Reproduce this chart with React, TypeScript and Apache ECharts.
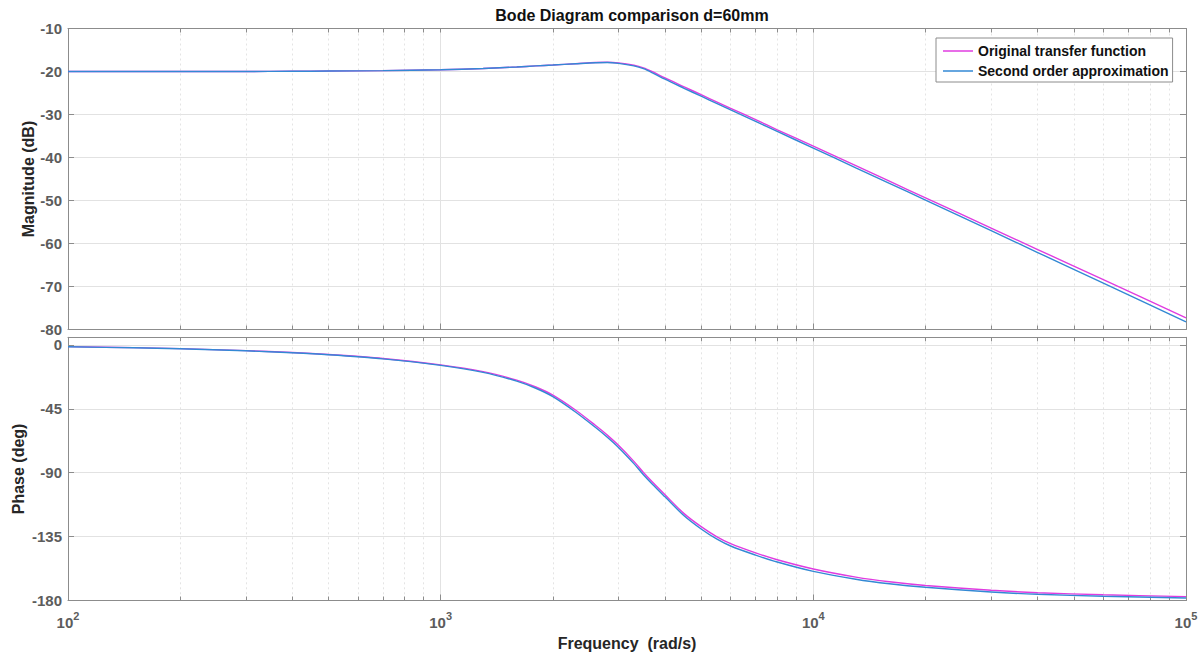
import React, { useEffect, useRef } from "react";
import * as echarts from "echarts";

const TITLE = "Bode Diagram comparison d=60mm";
const SERIES_NAMES = ["Original transfer function", "Second order approximation"];

const freq = [100, 150, 200, 300, 400, 500, 700, 1000, 1300, 1600, 1800, 2000, 2300, 2600, 2800, 3000, 3300, 3500, 3700, 4000, 4500, 5000, 5500, 6000, 7000, 8000, 10000, 13000, 16000, 20000, 30000, 40000, 60000, 100000];

const magOriginal = [-20.0, -20.0, -20.0, -20.0, -19.95, -19.9, -19.8, -19.6, -19.3, -18.95, -18.7, -18.5, -18.2, -17.9, -17.85, -18.0, -18.55, -19.15, -20.05, -21.5, -23.55, -25.4, -27.05, -28.55, -31.2, -33.55, -37.35, -41.9, -45.5, -49.4, -56.4, -61.4, -68.4, -77.3];
const magSecond = [-20.0, -20.0, -20.0, -20.0, -19.95, -19.9, -19.8, -19.6, -19.3, -18.95, -18.7, -18.5, -18.2, -17.95, -17.9, -18.1, -18.7, -19.35, -20.3, -21.8, -23.9, -25.75, -27.4, -28.95, -31.6, -33.95, -37.8, -42.4, -46.0, -49.9, -57.0, -62.1, -69.2, -78.2];

const phaseOriginal = [-1.2, -1.9, -2.6, -4.0, -5.3, -6.7, -9.5, -14.0, -18.8, -24.8, -29.6, -35.3, -45.8, -56.6, -63.5, -70.7, -82.0, -89.8, -96.5, -105.5, -118.8, -128.0, -135.0, -140.0, -146.5, -151.3, -157.8, -163.5, -166.8, -169.4, -172.8, -174.5, -176.0, -177.3];
const phaseSecond = [-1.3, -2.0, -2.7, -4.1, -5.5, -6.9, -9.8, -14.4, -19.3, -25.5, -30.5, -36.4, -47.2, -58.0, -65.0, -72.2, -83.6, -91.4, -98.1, -107.0, -120.3, -129.6, -136.6, -141.6, -148.0, -152.9, -159.5, -165.0, -168.2, -170.7, -174.0, -175.6, -177.0, -178.2];

const X_MIN = 100;
const X_MAX = 100000;
const MAG_MIN = -80;
const MAG_MAX = -10;
const MAG_STEP = 10;
const PH_MIN = -180;
const PH_MAX = 5.4;
const PH_STEP = 45;
const DECADES = [2, 3, 4];
const MINOR_MULT = [2, 3, 4, 5, 6, 7, 8, 9];

const FONT = "Liberation Sans, Arial, Helvetica, sans-serif";
const AXIS_GRAY = "#8c8c8c";
const LABEL_GRAY = "#5c5c5c";
const DARK = "#262626";
const GRID_MAJOR = "#e2e2e2";
const GRID_MINOR = "#e4e4e4";
const MAGENTA = "#e03ce0";
const BLUE = "#3389d4";

export default function App() {
  const ref = useRef<HTMLDivElement>(null);

  useEffect(() => {
    if (!ref.current) return;
    const chart = echarts.init(ref.current, undefined, { renderer: "svg" });

    const minorLog: number[] = [];
    DECADES.forEach((d) => MINOR_MULT.forEach((m) => minorLog.push(Math.log10(m * Math.pow(10, d)))));
    const allLog: number[] = [2, 3, 4, 5, ...minorLog];

    const grids = [
      { left: 68, top: 28.5, width: 1118, height: 301 },
      { left: 68, top: 337.3, width: 1118, height: 263.2 },
    ];

    const logAxis = (gridIndex: number, showLabels: boolean) => ({
      type: "log",
      gridIndex,
      position: "bottom",
      logBase: 10,
      min: X_MIN,
      max: X_MAX,
      splitNumber: 3,
      axisLine: { show: true, onZero: false, lineStyle: { color: AXIS_GRAY, width: 1 } },
      axisTick: { show: true, inside: true, length: 6, lineStyle: { color: AXIS_GRAY } },
      splitLine: { show: true, lineStyle: { color: GRID_MAJOR, width: 1 } },
      axisLabel: showLabels
        ? {
            show: true,
            margin: 10,
            formatter: (v: number) => `{b|10}{s|${Math.round(Math.log10(v))}}`,
            rich: {
              b: { fontFamily: FONT, fontWeight: "bold", fontSize: 15, color: LABEL_GRAY, verticalAlign: "bottom" },
              s: { fontFamily: FONT, fontWeight: "bold", fontSize: 11, color: LABEL_GRAY, verticalAlign: "bottom", padding: [0, 0, 8, 0] },
            },
          }
        : { show: false },
      name: showLabels ? "Frequency  (rad/s)" : "",
      nameLocation: "middle",
      nameGap: 35,
      nameMoveOverlap: false,
      nameTextStyle: { fontFamily: FONT, fontWeight: "bold", fontSize: 16, color: DARK },
    });

    const minorAxis = (gridIndex: number) => ({
      type: "value",
      gridIndex,
      position: "bottom",
      min: 2,
      max: 5,
      axisLine: { show: false, onZero: false },
      axisTick: { show: true, inside: true, length: 4, customValues: minorLog, lineStyle: { color: AXIS_GRAY } },
      axisLabel: { show: false },
      splitLine: { show: true, lineStyle: { color: GRID_MINOR, width: 1, type: [2, 3] } },
    });

    const topAxis = (gridIndex: number) => ({
      type: "value",
      gridIndex,
      position: "top",
      min: 2,
      max: 5,
      axisLine: { show: true, onZero: false, lineStyle: { color: AXIS_GRAY, width: 1 } },
      axisTick: { show: true, inside: true, length: 4, customValues: allLog, lineStyle: { color: AXIS_GRAY } },
      axisLabel: { show: false },
      splitLine: { show: false },
    });

    const leftAxis = (gridIndex: number, min: number, max: number, step: number, name: string, gap: number) => ({
      type: "value",
      gridIndex,
      position: "left",
      min,
      max,
      interval: step,
      axisLine: { show: true, onZero: false, lineStyle: { color: AXIS_GRAY, width: 1 } },
      axisTick: { show: true, inside: true, length: 6, lineStyle: { color: AXIS_GRAY } },
      splitLine: { show: true, lineStyle: { color: GRID_MAJOR, width: 1 } },
      axisLabel: {
        show: true,
        margin: 6,
        showMaxLabel: max % step === 0,
        fontFamily: FONT,
        fontWeight: "bold",
        fontSize: 15,
        color: LABEL_GRAY,
      },
      name,
      nameLocation: "middle",
      nameGap: gap,
      nameMoveOverlap: false,
      nameTextStyle: { fontFamily: FONT, fontWeight: "bold", fontSize: 16, color: DARK },
    });

    const rightAxis = (gridIndex: number, min: number, max: number, step: number) => ({
      type: "value",
      gridIndex,
      position: "right",
      min,
      max,
      interval: step,
      axisLine: { show: true, onZero: false, lineStyle: { color: AXIS_GRAY, width: 1 } },
      axisTick: { show: true, inside: true, length: 6, lineStyle: { color: AXIS_GRAY } },
      splitLine: { show: false },
      axisLabel: { show: false },
    });

    const pairs = (ys: number[]) => freq.map((f, i) => [f, ys[i]]);
    const lineSeries = (name: string, color: string, xi: number, yi: number, ys: number[]) => ({
      type: "line",
      name,
      xAxisIndex: xi,
      yAxisIndex: yi,
      data: pairs(ys),
      showSymbol: false,
      symbol: "none",
      smooth: 0.3,
      lineStyle: { color, width: 1.4 },
      itemStyle: { color },
    });

    chart.setOption({
      animation: false,
      backgroundColor: "#ffffff",
      title: {
        text: TITLE,
        left: 627,
        top: 2,
        textAlign: "center",
        textStyle: { fontFamily: FONT, fontWeight: "bold", fontSize: 16, color: "#111" },
      },
      legend: {
        data: SERIES_NAMES,
        orient: "vertical",
        left: 936,
        top: 38,
        icon: "rect",
        itemWidth: 30,
        itemHeight: 1.5,
        itemGap: 4,
        padding: [5, 4, 3, 7],
        backgroundColor: "#ffffff",
        borderColor: "#8c8c8c",
        borderWidth: 1,
        textStyle: { fontFamily: FONT, fontWeight: "bold", fontSize: 14, color: "#111", lineHeight: 16 },
      },
      grid: grids,
      xAxis: [logAxis(0, false), minorAxis(0), topAxis(0), logAxis(1, true), minorAxis(1), topAxis(1)],
      yAxis: [
        leftAxis(0, MAG_MIN, MAG_MAX, MAG_STEP, "Magnitude (dB)", 32),
        rightAxis(0, MAG_MIN, MAG_MAX, MAG_STEP),
        leftAxis(1, PH_MIN, PH_MAX, PH_STEP, "Phase (deg)", 42),
        rightAxis(1, PH_MIN, PH_MAX, PH_STEP),
      ],
      series: [
        lineSeries(SERIES_NAMES[0], MAGENTA, 0, 0, magOriginal),
        lineSeries(SERIES_NAMES[1], BLUE, 0, 0, magSecond),
        lineSeries(SERIES_NAMES[0], MAGENTA, 3, 2, phaseOriginal),
        lineSeries(SERIES_NAMES[1], BLUE, 3, 2, phaseSecond),
      ],
    });

    return () => chart.dispose();
  }, []);

  return <div ref={ref} style={{ position: "fixed", left: 0, top: 0, width: 1204, height: 658 }} />;
}
